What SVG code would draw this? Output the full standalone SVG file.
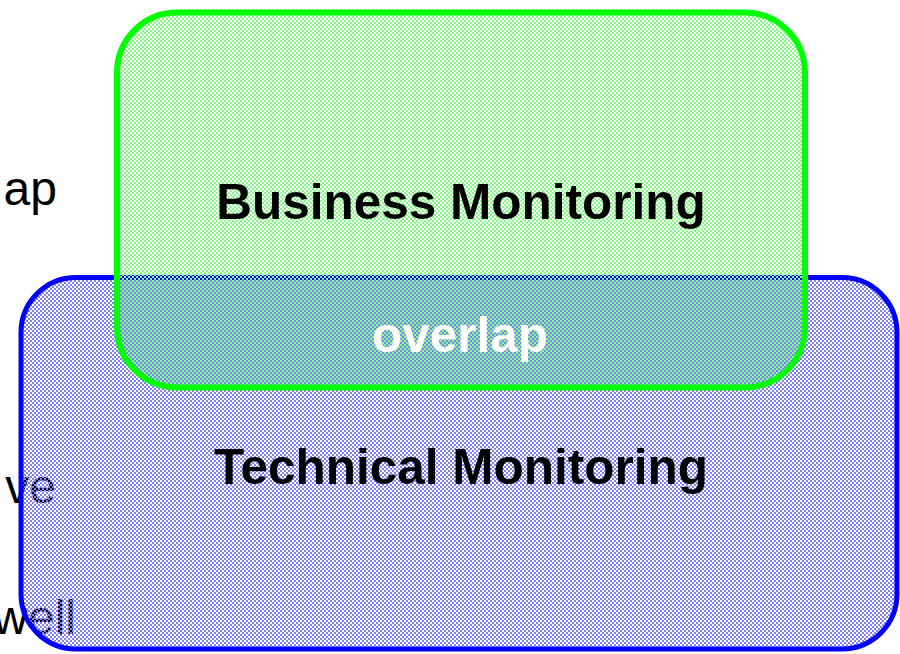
<svg xmlns="http://www.w3.org/2000/svg" width="900" height="654" viewBox="0 0 900 654">
  <defs>
    <!-- 2px checker fills; the two tiles interlock so the overlap reads as green/blue -->
    <pattern id="checkGreen" width="4" height="4" patternUnits="userSpaceOnUse">
      <rect x="0" y="0" width="2" height="2" fill="#80ff80"/>
      <rect x="2" y="2" width="2" height="2" fill="#80ff80"/>
    </pattern>
    <pattern id="checkBlue" width="4" height="4" patternUnits="userSpaceOnUse">
      <rect x="2" y="0" width="2" height="2" fill="#8080ff"/>
      <rect x="0" y="2" width="2" height="2" fill="#8080ff"/>
    </pattern>
  </defs>
  <style>
    .side { font-family: "Liberation Sans", Arial, sans-serif; font-size: 48px; fill: #000; text-anchor: end; }
    .label { font-family: "Liberation Sans", Arial, sans-serif; font-size: 49.5px; font-weight: bold; text-anchor: middle; }
  </style>
  <rect width="900" height="654" fill="#ffffff"/>

  <!-- slide text running behind the boxes -->
  <g id="side-text">
    <text class="side" x="57" y="205">ap</text>
    <text class="side" x="56" y="503">ve</text>
    <text class="side" x="76" y="634">well</text>
  </g>

  <g id="technical">
    <rect x="21" y="277.5" width="876" height="371.5" rx="55" ry="55" fill="url(#checkBlue)" stroke="#0000ff" stroke-width="5"/>
  </g>

  <g id="business">
    <rect x="117" y="12.5" width="688" height="375" rx="60" ry="60" fill="url(#checkGreen)" stroke="#00ff00" stroke-width="6"/>
  </g>

  <g id="labels">
    <text class="label" x="461" y="219" fill="#000">Business Monitoring</text>
    <text class="label" x="460" y="352" fill="#ffffff">overlap</text>
    <text class="label" x="461" y="484" fill="#000">Technical Monitoring</text>
  </g>

  <g id="connectors"></g>
</svg>
